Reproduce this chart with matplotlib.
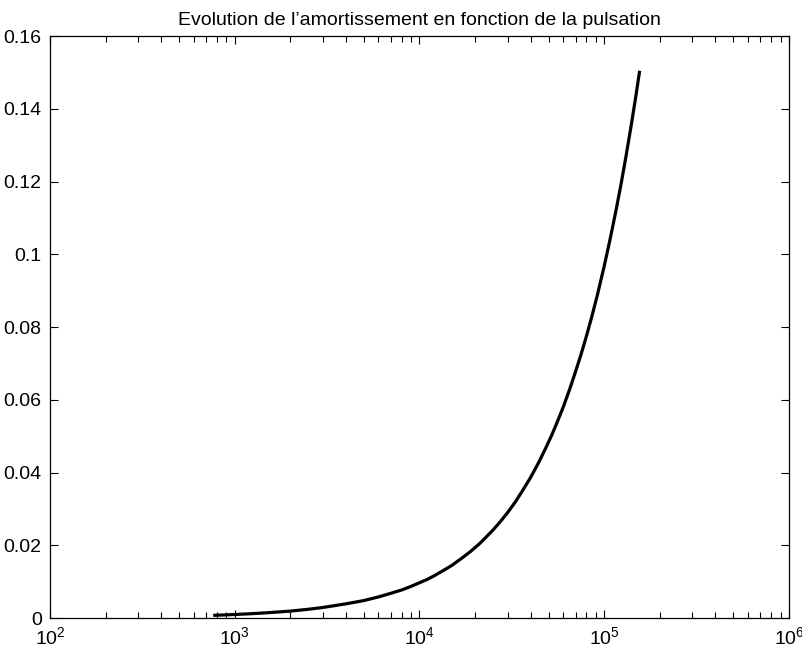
import matplotlib
matplotlib.use("Agg")
import matplotlib.pyplot as plt
from matplotlib.ticker import FuncFormatter, LogLocator, MultipleLocator

plt.rcParams['font.family'] = ['Liberation Sans', 'DejaVu Sans']
plt.rcParams['mathtext.fontset'] = 'custom'
plt.rcParams['mathtext.rm'] = 'Liberation Sans'
plt.rcParams['mathtext.it'] = 'Liberation Sans'

# pulsation (rad/s) and damping
pulsation = [780, 900, 1000, 1200, 1500, 2000, 2500, 3000, 4000, 5000, 6000,
             7000, 8000, 9000, 10000, 11000, 12000, 13500, 15000, 17000,
             19000, 21000, 23000, 25000, 27500, 30000, 33000, 36000, 40000,
             44000, 48000, 52000, 56000, 60000, 65000, 70000, 75000, 80000,
             86000, 92000, 100000, 107000, 115000, 123000, 131000, 140000,
             148000, 155000]
amortissement = [0.00075, 0.00087, 0.00097, 0.00116, 0.00145, 0.0019, 0.0024,
                 0.0029, 0.0039, 0.0048, 0.0058, 0.0068, 0.0077, 0.0087,
                 0.0097, 0.0106, 0.0116, 0.0131, 0.0145, 0.0165, 0.0184,
                 0.0203, 0.0223, 0.0242, 0.0266, 0.029, 0.0319, 0.0349,
                 0.0387, 0.0426, 0.0465, 0.0503, 0.0542, 0.058, 0.0629,
                 0.0678, 0.0726, 0.0774, 0.0832, 0.089, 0.0968, 0.1036,
                 0.1113, 0.119, 0.1268, 0.1355, 0.1432, 0.150]

title = "Evolution de l\u2019amortissement en fonction de la pulsation"

fig = plt.figure(figsize=(8.02, 6.5), dpi=100)
ax = fig.add_axes([0.0623, 0.0492, 0.9215, 0.8954])

ax.plot(pulsation, amortissement, color='black', linewidth=2.3)

ax.set_xscale('log')
ax.set_xlim(1e2, 1e6)
ax.set_ylim(0, 0.16)
ax.yaxis.set_major_locator(MultipleLocator(0.02))
ax.yaxis.set_major_formatter(FuncFormatter(lambda v, p: "%g" % round(v, 4)))
ax.xaxis.set_major_locator(LogLocator(base=10, numticks=10))
ax.xaxis.set_minor_locator(LogLocator(base=10, subs=range(2, 10), numticks=20))

ax.tick_params(which='both', direction='in', top=True, right=True,
               labelsize=14, width=0.8)
ax.tick_params(which='major', length=6, pad=6)
ax.tick_params(which='minor', length=4)
for s in ax.spines.values():
    s.set_linewidth(0.9)

ax.set_title(title, fontsize=14, pad=8)

fig.savefig("out.png", dpi=100)
